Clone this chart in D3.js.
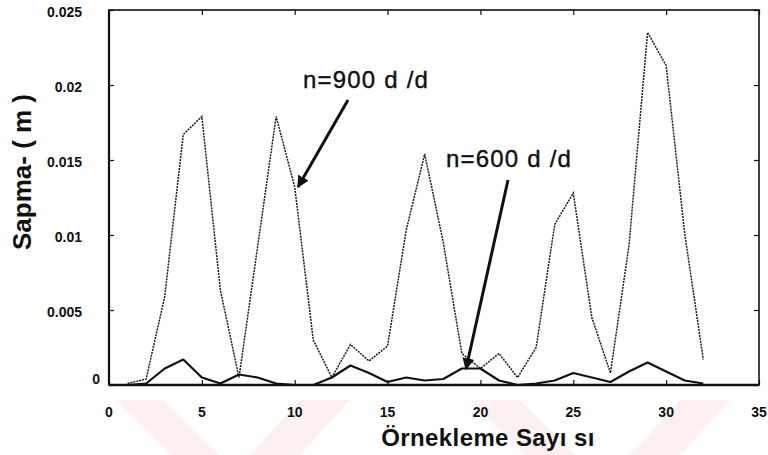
<!DOCTYPE html>
<html lang="tr">
<head>
    <meta charset="UTF-8">
    <title>Sapma</title>
    <style>
        body{ margin:0; background:#fff; }
        svg{ display:block; }
    </style>
</head>
<body>
    <script src="https://cdnjs.cloudflare.com/ajax/libs/d3/7.8.2/d3.min.js"></script>
    <script>

        // örnekleme sayısı
        const orneklem = d3.range(1, 33);

        // n=900 d/d (noktalı)
        const sapma900 = [0.0001, 0.0004, 0.0059, 0.0167, 0.0179, 0.0063, 0.0005, 0.0092,
            0.0179, 0.0132, 0.0030, 0.0005, 0.0027, 0.0016, 0.0026, 0.0103,
            0.0154, 0.0095, 0.0021, 0.0011, 0.0021, 0.0005, 0.0025, 0.0107,
            0.0128, 0.0045, 0.0008, 0.0093, 0.0235, 0.0213, 0.0101, 0.0017];

        // n=600 d/d (düz)
        const sapma600 = [0.0000, 0.0001, 0.0011, 0.0017, 0.0005, 0.0001, 0.0007, 0.0005,
            0.0001, 0.0000, 0.0000, 0.0005, 0.0013, 0.0008, 0.0002, 0.0005,
            0.0003, 0.0004, 0.0011, 0.0011, 0.0003, 0.0000, 0.0001, 0.0003,
            0.0008, 0.0005, 0.0002, 0.0009, 0.0015, 0.0009, 0.0003, 0.0001];

        const xTicks = [0, 5, 10, 15, 20, 25, 30, 35];
        const yTicks = [0, 0.005, 0.01, 0.015, 0.02, 0.025];
        const yTickLabels = ["0", "0.005", "0.01", "0.015", "0.02", "0.025"];

        const w = 768;
        const h = 455;

        const svg = d3.select("body")
            .append("svg")
            .attr("width", w)
            .attr("height", h);

        // arka plandaki soluk filigran
        const filigran = [
            [[115,400],[165,400],[220,455],[170,455]],
            [[300,400],[350,400],[300,455],[250,455]],
            [[470,400],[520,400],[575,455],[525,455]],
            [[680,400],[730,400],[680,455],[630,455]]
        ];
        svg.selectAll(".fil")
            .data(filigran)
            .enter()
            .append("polygon")
                .attr("points", d => d.map(p => p.join(",")).join(" "))
                .style("fill", "#fdf0f0");

        const x = d3.scaleLinear().domain([0, 35]).range([109, 759]);
        const y = d3.scaleLinear().domain([0, 0.025]).range([385, 10]);

        const font = "'Liberation Sans Narrow', 'Arial Narrow', 'Liberation Sans', sans-serif";

        // eksenler (içe dönük çentikler)
        svg.append("g")
            .attr("transform", "translate(0," + y(0) + ")")
            .call(d3.axisBottom(x).tickValues(xTicks).tickSize(-5).tickFormat(""))
            .call(g => g.select(".domain").remove());
        svg.append("g")
            .attr("transform", "translate(0," + y(0.025) + ")")
            .call(d3.axisTop(x).tickValues(xTicks).tickSize(-5).tickFormat(""))
            .call(g => g.select(".domain").remove());
        svg.append("g")
            .attr("transform", "translate(" + x(0) + ",0)")
            .call(d3.axisLeft(y).tickValues(yTicks).tickSize(-5).tickFormat(""))
            .call(g => g.select(".domain").remove());
        svg.append("g")
            .attr("transform", "translate(" + x(35) + ",0)")
            .call(d3.axisRight(y).tickValues(yTicks).tickSize(-5).tickFormat(""))
            .call(g => g.select(".domain").remove());
        svg.selectAll(".tick line").style("stroke", "#111").style("stroke-width", 1.2);

        // çerçeve
        svg.append("rect")
            .attr("x", x(0)).attr("y", y(0.025))
            .attr("width", x(35) - x(0)).attr("height", y(0) - y(0.025))
            .style("fill", "none").style("stroke", "#111").style("stroke-width", 1.6);
        svg.append("line")
            .attr("x1", x(0)).attr("x2", x(35)).attr("y1", y(0)).attr("y2", y(0))
            .style("stroke", "#111").style("stroke-width", 2.4);
        svg.append("line")
            .attr("x1", x(0)).attr("x2", x(0)).attr("y1", y(0)).attr("y2", y(0.025))
            .style("stroke", "#111").style("stroke-width", 2.2);

        // çentik yazıları
        svg.selectAll(".xl")
            .data(xTicks)
            .enter()
            .append("text")
                .attr("x", d => x(d))
                .attr("y", 417)
                .attr("text-anchor", "middle")
                .style("font-family", font)
                .style("font-weight", "bold")
                .style("font-size", "14px")
                .style("fill", "#111")
                .text(d => d);

        svg.selectAll(".yl")
            .data(yTicks)
            .enter()
            .append("text")
                .attr("x", (d, i) => i === 0 ? 100 : 82)
                .attr("y", (d, i) => i === 0 ? y(d) - 1 : y(d) + 7)
                .attr("text-anchor", "end")
                .style("font-family", font)
                .style("font-weight", "bold")
                .style("font-size", "14px")
                .style("fill", "#111")
                .text((d, i) => yTickLabels[i]);

        // seriler
        const cizgi = d3.line()
            .x((d, i) => x(orneklem[i]))
            .y(d => y(d));

        svg.append("path")
            .datum(sapma900)
            .attr("d", cizgi)
            .style("fill", "none")
            .style("stroke", "#1a1a1a")
            .style("stroke-width", 1.5)
            .style("stroke-dasharray", "2,1");

        svg.append("path")
            .datum(sapma600)
            .attr("d", cizgi)
            .style("fill", "none")
            .style("stroke", "#111")
            .style("stroke-width", 2.2)
            .style("stroke-linejoin", "round");

        // oklar ve açıklamalar
        svg.append("defs").append("marker")
            .attr("id", "ok")
            .attr("viewBox", "0 0 10 10")
            .attr("refX", 9).attr("refY", 5)
            .attr("markerWidth", 4).attr("markerHeight", 4)
            .attr("orient", "auto")
            .append("path")
                .attr("d", "M0,0 L10,5 L0,10 z")
                .style("fill", "#111");

        const notlar = [
            {yazi: "n=900 d /d", tx: 303, ty: 88, x1: 348, y1: 100, x2: 298, y2: 187},
            {yazi: "n=600 d /d", tx: 446, ty: 167, x1: 508, y1: 180, x2: 466, y2: 369}
        ];

        svg.selectAll(".ok")
            .data(notlar)
            .enter()
            .append("line")
                .attr("x1", d => d.x1).attr("y1", d => d.y1)
                .attr("x2", d => d.x2).attr("y2", d => d.y2)
                .attr("marker-end", "url(#ok)")
                .style("stroke", "#111")
                .style("stroke-width", 3);

        svg.selectAll(".not")
            .data(notlar)
            .enter()
            .append("text")
                .attr("x", d => d.tx)
                .attr("y", d => d.ty)
                .style("font-family", "'Liberation Sans', Arial, sans-serif")
                .style("font-size", "24px")
                .style("letter-spacing", "1.2px")
                .style("fill", "#111")
                .style("stroke", "#111")
                .style("stroke-width", 0.4)
                .text(d => d.yazi);

        // eksen başlıkları
        svg.append("text")
            .attr("x", 488)
            .attr("y", 446)
            .attr("text-anchor", "middle")
            .style("font-family", "'Liberation Sans', Arial, sans-serif")
            .style("font-weight", "bold")
            .style("font-size", "24px")
            .style("letter-spacing", "0.4px")
            .style("fill", "#111")
            .text("Örnekleme Sayı sı");

        svg.append("text")
            .attr("transform", "translate(31,172) rotate(-90)")
            .attr("text-anchor", "middle")
            .style("font-family", "'Liberation Sans', Arial, sans-serif")
            .style("font-weight", "bold")
            .style("font-size", "26px")
            .style("fill", "#111")
            .text("Sapma- ( m )");

    </script>
</body>
</html>
